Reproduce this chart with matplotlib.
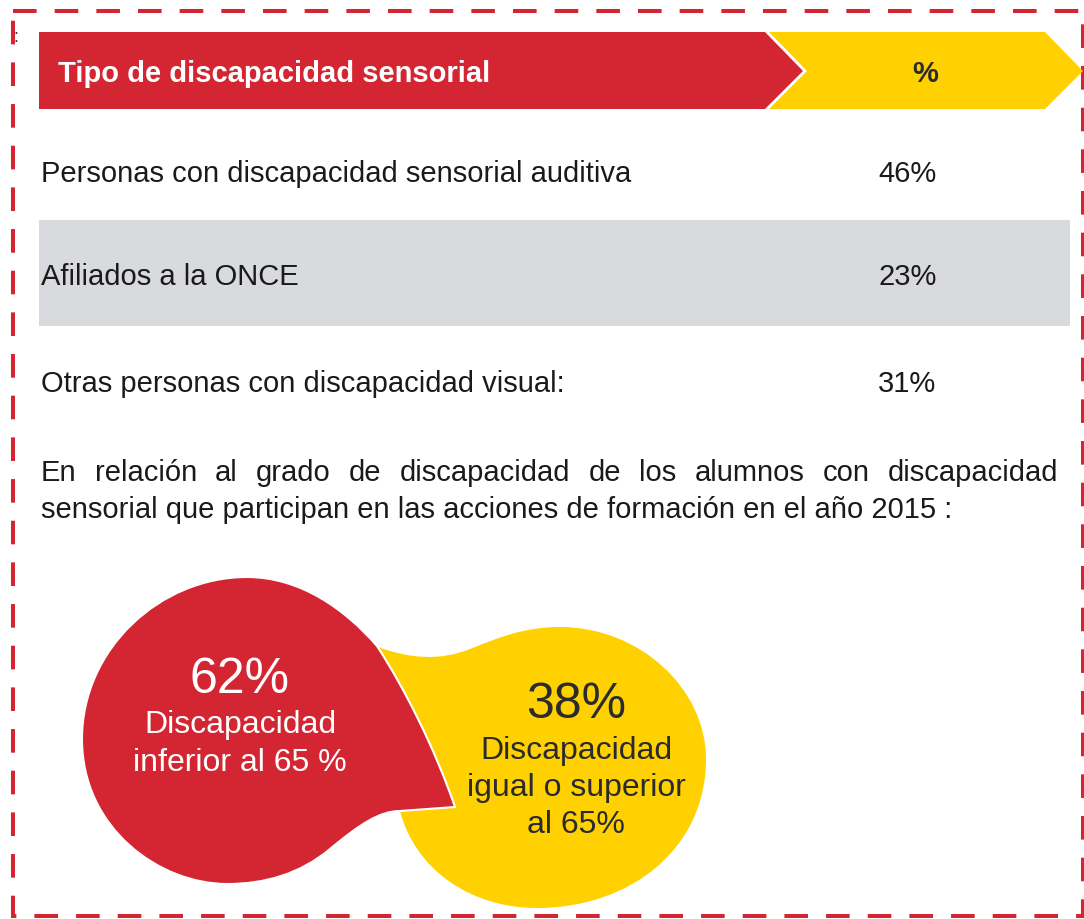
import matplotlib
matplotlib.use("Agg")
import matplotlib.pyplot as plt
from matplotlib.patches import Polygon, Rectangle, PathPatch
from matplotlib.path import Path

plt.rcParams["font.family"] = ["Liberation Sans", "DejaVu Sans"]
plt.rcParams["lines.scale_dashes"] = False

RED = "#D42632"
YELLOW = "#FFD100"
GREY = "#D9DADE"
DARK = "#2B2B2B"

# data
header_labels = ["Tipo de discapacidad sensorial", "%"]
row_labels = [
    "Personas con discapacidad sensorial auditiva",
    "Afiliados a la ONCE",
    "Otras personas con discapacidad visual:",
]
row_pct = [46, 23, 31]
paragraph = [
    "En relación al grado de discapacidad de los alumnos con discapacidad",
    "sensorial que participan en las acciones de formación en el año 2015 :",
]
bubble_pct = [62, 38]
bubble_labels = ["Discapacidad\ninferior al 65 %", "Discapacidad\nigual o superior\nal 65%"]

fig = plt.figure(figsize=(10.84, 9.2), dpi=100)
ax = fig.add_axes([0, 0, 1, 1])
ax.set_xlim(0, 1084)
ax.set_ylim(920, 0)
ax.axis("off")

# dashed frame
ax.add_patch(Rectangle((13, 12), 1070, 905, fill=False, edgecolor=RED,
                       linewidth=2.9, linestyle=(0, (17, 13))))
ax.text(16, 37, ":", fontsize=13, color="#333333", ha="center", va="center")

# header chevrons
ax.add_patch(Polygon([(39, 33), (765, 33), (803, 72), (765, 110), (39, 110)],
                     closed=True, facecolor=RED, edgecolor="none"))
ax.add_patch(Polygon([(769, 33), (1045, 33), (1083, 72), (1045, 110), (769, 110), (807, 72)],
                     closed=True, facecolor=YELLOW, edgecolor="none"))
ax.text(58, 74, header_labels[0], color="white", fontsize=21, fontweight="bold",
        ha="left", va="center")
ax.text(925, 74, header_labels[1], color=DARK, fontsize=21, fontweight="bold",
        ha="center", va="center")

# table rows
row_y = [174, 277, 384]
ax.add_patch(Rectangle((39, 221), 1031, 106, facecolor=GREY, edgecolor="none"))
for lab, pct, y in zip(row_labels, row_pct, row_y):
    ax.text(41, y, lab, fontsize=21, color="#1A1A1A", ha="left", va="center")
    ax.text(878, y, f"{pct}%", fontsize=21, color="#1A1A1A", ha="left", va="center")

# paragraph, first line justified
renderer = fig.canvas.get_renderer()


def justify(line, x0, x1, y):
    words = line.split()
    texts = [ax.text(0, y, w, fontsize=21, color="#1A1A1A", ha="left", va="center")
             for w in words]
    widths = [t.get_window_extent(renderer).width for t in texts]
    gap = (x1 - x0 - sum(widths)) / (len(words) - 1)
    x = x0
    for t, w in zip(texts, widths):
        t.set_x(x)
        x += w + gap


justify(paragraph[0], 41, 1058, 473)
ax.text(41, 510, paragraph[1], fontsize=21, color="#1A1A1A", ha="left", va="center")

# bubbles (pixel coords, y down)
C4, L2, M = Path.CURVE4, Path.LINETO, Path.MOVETO
yellow_verts = [
    (375, 647),
    (410, 660), (440, 662), (470, 650),
    (500, 638), (525, 628), (560, 628),
    (640, 628), (706, 690), (706, 760),
    (706, 850), (630, 909), (537, 909),
    (470, 909), (415, 870), (400, 812),
    (375, 647),
]
yellow_codes = [M] + [C4] * 15 + [Path.CLOSEPOLY]
ax.add_patch(PathPatch(Path(yellow_verts, yellow_codes), facecolor=YELLOW, edgecolor="none"))

red_verts = [
    (227, 885),
    (160, 885), (82, 830), (82, 740),
    (82, 650), (160, 578), (247, 578),
    (300, 578), (345, 610), (377, 647),
    (405, 690), (435, 750), (455, 808),
    (400, 812),
    (380, 812), (360, 825), (330, 850),
    (300, 875), (265, 885), (227, 885),
    (227, 885),
]
red_codes = [M] + [C4] * 12 + [L2] + [C4] * 6 + [Path.CLOSEPOLY]
ax.add_patch(PathPatch(Path(red_verts, red_codes), facecolor=RED, edgecolor="white",
                       linewidth=1.5, joinstyle="miter"))

ax.text(240, 680, f"{bubble_pct[0]}%", fontsize=36, color="white", ha="center", va="center")
ax.text(240, 744, bubble_labels[0], fontsize=23, color="white", ha="center", va="center",
        linespacing=1.32)
ax.text(576, 705, f"{bubble_pct[1]}%", fontsize=36, color=DARK, ha="center", va="center")
ax.text(576, 788, bubble_labels[1], fontsize=23, color=DARK, ha="center", va="center",
        linespacing=1.32)

fig.savefig("out.png", dpi=100)
